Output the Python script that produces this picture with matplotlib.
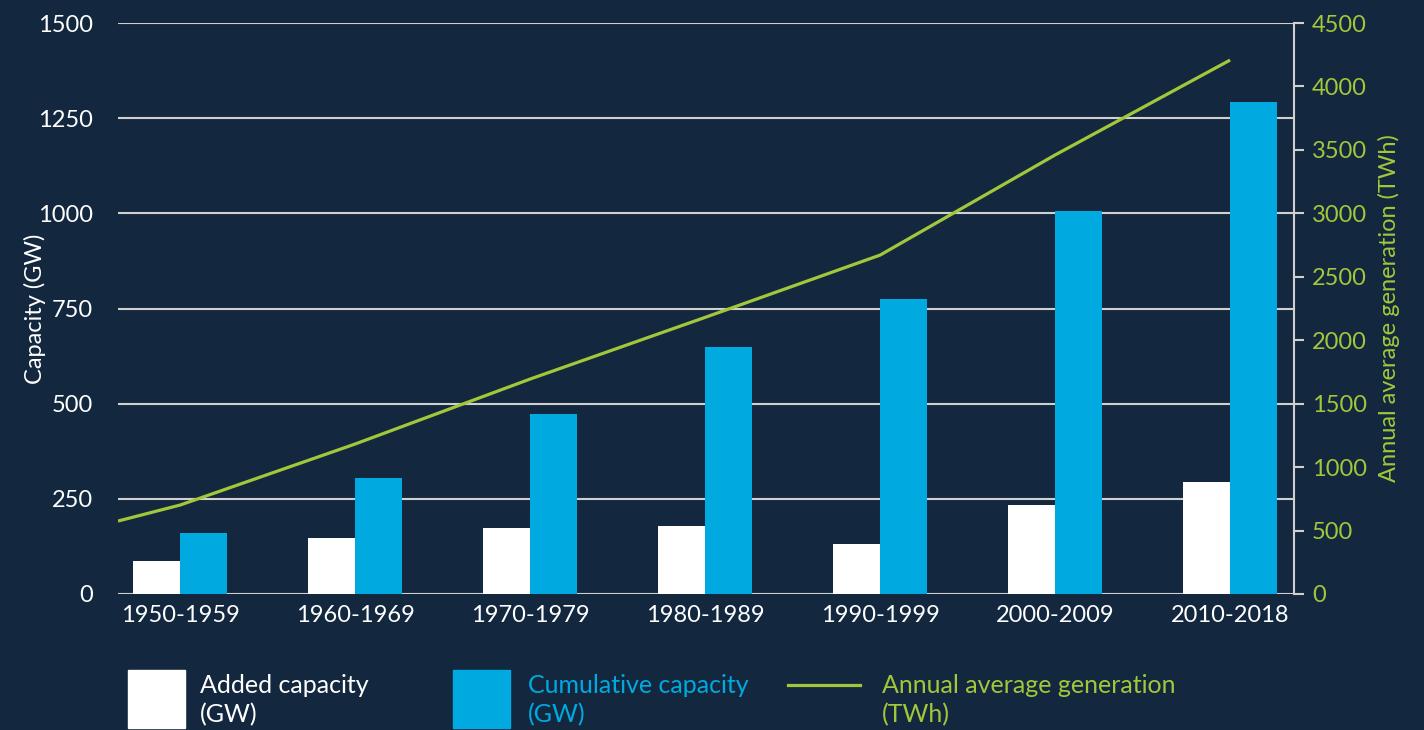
import matplotlib
matplotlib.use("Agg")
import matplotlib.pyplot as plt
import matplotlib.patches as patches
from matplotlib.lines import Line2D
import numpy as np

decades = ["1950-1959", "1960-1969", "1970-1979", "1980-1989",
           "1990-1999", "2000-2009", "2010-2018"]
added_gw = [87, 147, 173, 179, 131, 234, 294]
cumulative_gw = [160, 305, 473, 649, 775, 1006, 1292]
generation_twh = [701, 1182, 1694, 2180, 2671, 3460, 4208]
generation_start_twh = 575  # value where the line enters at the left edge

bg = "#13283f"
blue = "#00a9e0"
green = "#a2c73b"
grid_col = "#d0d0d0"

plt.rcParams["font.family"] = ["Lato", "DejaVu Sans"]

fig = plt.figure(figsize=(14.24, 7.3), dpi=100, facecolor=bg)
ax = fig.add_axes([118 / 1424, 1 - 594 / 730, (1294 - 118) / 1424, (594 - 23) / 730])
ax.set_facecolor(bg)
ax2 = ax.twinx()

x = np.arange(len(decades))
w = 0.27
xmin, xmax = -0.355, 6.365

ax.bar(x - w / 2, added_gw, width=w, color="white", zorder=3)
ax.bar(x + w / 2, cumulative_gw, width=w, color=blue, zorder=3)

ax.set_xlim(xmin, xmax)
ax.set_ylim(0, 1500)
ax.set_yticks([0, 250, 500, 750, 1000, 1250, 1500])
ax.yaxis.grid(True, color=grid_col, lw=1.5, zorder=0)
ax.set_axisbelow(True)
for s in ax.spines.values():
    s.set_visible(False)
ax.tick_params(axis="y", length=0, pad=18, labelsize=17, labelcolor="white")
ax.set_xticks(x)
ax.set_xticklabels(decades)
ax.tick_params(axis="x", length=0, pad=8, labelsize=17, labelcolor="white")
ax.set_ylabel("Capacity (GW)", color="white", fontsize=17)
ax.yaxis.set_label_coords((46 - 118) / 1176, 0.5)

line_x = np.concatenate([[xmin], x])
line_y = [generation_start_twh] + generation_twh
ax2.plot(line_x, line_y, color=green, lw=2.3, zorder=5, solid_capstyle="butt")
ax2.set_ylim(0, 4500)
ax2.set_yticks(np.arange(0, 4501, 500))
for k, s in ax2.spines.items():
    s.set_visible(k == "right")
ax2.spines["right"].set_color(grid_col)
ax2.spines["right"].set_linewidth(1.5)
ax2.tick_params(axis="y", length=7, width=1.5, color=grid_col, pad=6,
                labelsize=17, labelcolor=green)
ax2.set_ylabel("Annual average generation (TWh)", color=green, fontsize=17)
ax2.yaxis.set_label_coords((1378 - 118) / 1176, 0.5)

# legend drawn in figure pixels
def px(xp, yp):
    return xp / 1424, 1 - yp / 730

fig.patches.append(patches.Rectangle(px(128, 728), 57 / 1424, 58 / 730,
                                     transform=fig.transFigure, color="white"))
fig.patches.append(patches.Rectangle(px(453, 728), 57 / 1424, 58 / 730,
                                     transform=fig.transFigure, color=blue))
lx0, ly0 = px(788, 685)
lx1, _ = px(860, 685)
fig.lines.append(Line2D([lx0, lx1], [ly0, ly0], transform=fig.transFigure,
                        color=green, lw=2.3))
for xp, txt, col in [(200, "Added capacity\n(GW)", "white"),
                     (528, "Cumulative capacity\n(GW)", blue),
                     (882, "Annual average generation\n(TWh)", green)]:
    tx, ty = px(xp, 674)
    fig.text(tx, ty, txt, color=col, fontsize=18, va="top", ha="left",
             linespacing=1.3)

fig.savefig("out.png", dpi=100, facecolor=bg)
